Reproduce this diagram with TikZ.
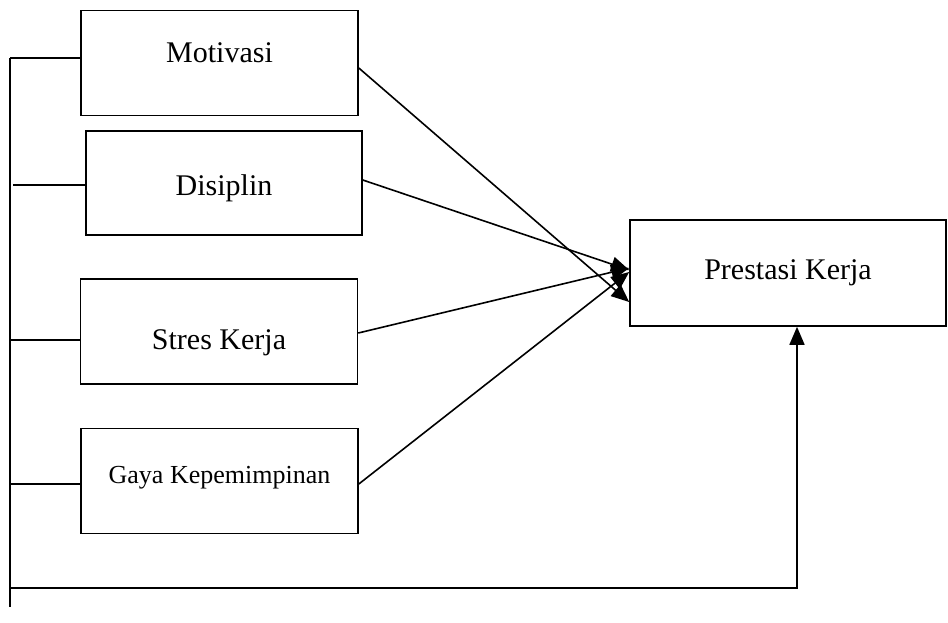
\documentclass[tikz,border=0pt]{standalone}
\usepackage{fontspec}
\setmainfont{Liberation Serif}
\usetikzlibrary{arrows.meta, positioning}

\begin{document}
\begin{tikzpicture}[
    x=1pt, y=-1pt,
    varbox/.style={rectangle, draw, line width=1.6pt, minimum width=277pt, minimum height=105pt, inner sep=0pt, text centered, font=\fontsize{30}{36}\selectfont},
    conn/.style={line width=1.6pt},
    arr/.style={line width=1.6pt, -{Triangle[length=18pt, width=15pt]}}
]
\useasboundingbox (0,0) rectangle (948,622);

% Independent variables
\node[varbox, text height=20pt, text depth=22pt] (motivasi) at (219.5,63) {Motivasi};
\node[varbox, minimum width=276pt, minimum height=104pt, text height=24pt, text depth=0pt] (disiplin) at (224,183) {Disiplin};
\node[varbox, text height=35pt, text depth=0pt] (stres) at (219,331.5) {Stres Kerja};
\node[varbox, text height=20pt, text depth=16pt, font=\fontsize{26}{31}\selectfont] (gaya) at (219.5,481) {Gaya Kepemimpinan};

% Dependent variable
\node[varbox, minimum width=316pt, minimum height=106pt, text height=20pt, text depth=8pt] (prestasi) at (788,273) {Prestasi Kerja};

% Left bus
\coordinate (bustop) at (10,58);
\coordinate (busturn) at (10,588);
\coordinate (busend) at (10,607);
\draw[conn] (bustop) -- (busend);
\draw[conn] ([yshift=5pt]motivasi.west) -- (bustop);
\draw[conn] ([yshift=-2pt]disiplin.west) -- ++(-72,0);
\draw[conn] ([yshift=-8.5pt]stres.west) -- ++(-71,0);
\draw[conn] ([yshift=-3pt]gaya.west) -- ++(-71,0);
\draw[arr] (busturn) -| ([xshift=9pt]prestasi.south);

% Direct effects
\draw[arr] ([yshift=-5pt]motivasi.east) -- ([yshift=-29pt]prestasi.west);
\draw[arr] ([yshift=3pt]disiplin.east) -- ([yshift=3pt]prestasi.west);
\draw[arr] ([yshift=-1.5pt]stres.east) -- ([yshift=5pt]prestasi.west);
\draw[arr] ([yshift=-3pt]gaya.east) -- ([yshift=1pt]prestasi.west);

\end{tikzpicture}
\end{document}
